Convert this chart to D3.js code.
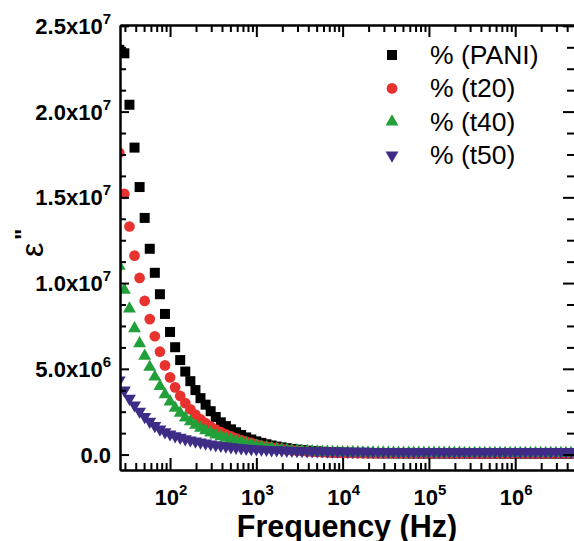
<!DOCTYPE html>
<html lang="en">
<head>
<meta charset="utf-8">
<title>Dielectric loss vs frequency</title>
<script src="https://cdn.jsdelivr.net/npm/d3@7"></script>
<style>
  body { margin: 0; background: #fff; }
  svg { display: block; font-family: "Liberation Sans", Arial, sans-serif; }
  .axis path, .axis line { stroke: #000; stroke-width: 2; }
</style>
</head>
<body>
<script>
// measurement frequencies (Hz), 17 points per decade
var freq = [25.81, 29.55, 33.84, 38.75, 44.37, 50.81, 58.18, 66.62, 76.29, 87.35,
  100, 114.5, 131.1, 150.1, 171.9, 196.8, 225.4, 258.1, 295.5, 338.4, 387.5, 443.7, 508.1, 581.8, 666.2, 762.9, 873.5,
  1000, 1145, 1311, 1501, 1719, 1968, 2254, 2581, 2955, 3384, 3875, 4437, 5081, 5818, 6662, 7629, 8735,
  10000, 11450, 13110, 15010, 17190, 19680, 22540, 25810, 29550, 33840, 38750, 44370, 50810, 58180, 66620, 76290, 87350,
  100000, 114500, 131100, 150100, 171900, 196800, 225400, 258100, 295500, 338400, 387500, 443700, 508100, 581800, 666200, 762900, 873500,
  1000000, 1145000, 1311000, 1501000, 1719000, 1968000, 2254000, 2581000, 2955000, 3384000, 3875000, 4437000];

// eps'' in units of 10^6
var pani = [23.6, 23.4, 20.4, 17.9, 15.6, 13.8, 12.0, 10.6, 9.35, 8.2,
  7.15, 6.26, 5.51, 4.84, 4.28, 3.76, 3.29, 2.91, 2.53, 2.19,
  1.88, 1.66, 1.47, 1.30, 1.14, 1.00, 0.88, 0.77, 0.68, 0.60,
  0.53, 0.47, 0.42, 0.37, 0.33, 0.29, 0.26, 0.23, 0.205, 0.185,
  0.165, 0.15, 0.135, 0.125, 0.115, 0.105, 0.098, 0.092, 0.087, 0.083,
  0.080, 0.078, 0.076, 0.075, 0.074, 0.073, 0.072, 0.071, 0.071, 0.070,
  0.070, 0.069, 0.069, 0.068, 0.068, 0.067, 0.067, 0.067, 0.066, 0.066,
  0.066, 0.065, 0.065, 0.065, 0.064, 0.064, 0.064, 0.063, 0.063, 0.063,
  0.062, 0.062, 0.062, 0.061, 0.061, 0.061, 0.060, 0.060, 0.060, 0.059];
var t20 = [17.6, 15.2, 13.3, 11.6, 10.3, 8.96, 7.9, 6.9, 6.0, 5.2,
  4.5, 3.92, 3.42, 3.0, 2.64, 2.33, 2.06, 1.83, 1.63, 1.46,
  1.31, 1.18, 1.06, 0.95, 0.85, 0.76, 0.68, 0.60, 0.53, 0.47,
  0.42, 0.37, 0.33, 0.29, 0.26, 0.23, 0.205, 0.185, 0.165, 0.15,
  0.135, 0.125, 0.115, 0.105, 0.1, 0.095, 0.09, 0.087, 0.085, 0.083,
  0.081, 0.08, 0.079, 0.078, 0.077, 0.076, 0.076, 0.075, 0.075, 0.074,
  0.074, 0.073, 0.073, 0.073, 0.072, 0.072, 0.072, 0.071, 0.071, 0.071,
  0.070, 0.070, 0.070, 0.070, 0.069, 0.069, 0.069, 0.069, 0.068, 0.068,
  0.068, 0.068, 0.067, 0.067, 0.067, 0.067, 0.066, 0.066, 0.066, 0.066];
var t40 = [11.0, 9.6, 8.5, 7.35, 6.48, 5.75, 5.1, 4.53, 3.98, 3.5,
  3.08, 2.72, 2.42, 2.15, 1.92, 1.72, 1.55, 1.40, 1.27, 1.15,
  1.05, 0.96, 0.88, 0.80, 0.72, 0.65, 0.58, 0.52, 0.46, 0.41,
  0.37, 0.33, 0.30, 0.27, 0.245, 0.225, 0.205, 0.19, 0.175, 0.165,
  0.155, 0.148, 0.14, 0.135, 0.13, 0.125, 0.12, 0.117, 0.114, 0.111,
  0.108, 0.105, 0.103, 0.101, 0.099, 0.097, 0.096, 0.095, 0.094, 0.093,
  0.092, 0.091, 0.09, 0.09, 0.089, 0.089, 0.088, 0.088, 0.087, 0.087,
  0.087, 0.086, 0.086, 0.086, 0.085, 0.085, 0.085, 0.085, 0.084, 0.084,
  0.084, 0.084, 0.083, 0.083, 0.083, 0.083, 0.082, 0.082, 0.082, 0.082];
var t50 = [4.34, 3.75, 3.27, 2.88, 2.52, 2.2, 1.93, 1.68, 1.48, 1.32,
  1.19, 1.08, 0.99, 0.91, 0.84, 0.78, 0.72, 0.66, 0.61, 0.56,
  0.52, 0.48, 0.44, 0.41, 0.38, 0.355, 0.335, 0.315, 0.3, 0.285,
  0.27, 0.26, 0.25, 0.24, 0.232, 0.225, 0.218, 0.212, 0.207, 0.202,
  0.198, 0.194, 0.19, 0.187, 0.184, 0.181, 0.179, 0.177, 0.175, 0.174,
  0.173, 0.172, 0.171, 0.17, 0.169, 0.168, 0.168, 0.167, 0.167, 0.166,
  0.166, 0.166, 0.165, 0.165, 0.165, 0.165, 0.164, 0.164, 0.164, 0.164,
  0.164, 0.163, 0.163, 0.163, 0.163, 0.163, 0.162, 0.162, 0.162, 0.162,
  0.162, 0.162, 0.161, 0.161, 0.161, 0.161, 0.161, 0.161, 0.160, 0.160];

var seriesNames = ["% (PANI)", "% (t20)", "% (t40)", "% (t50)"];
var seriesColors = ["#000000", "#e8322e", "#22a03a", "#3e2c86"];

var xTickValues = [1e2, 1e3, 1e4, 1e5, 1e6];
var xTickExp = ["2", "3", "4", "5", "6"];
var yTickValues = [0, 5, 10, 15, 20, 25];
var yTickMant = ["0.0", "5.0x10", "1.0x10", "1.5x10", "2.0x10", "2.5x10"];
var yTickExp = ["", "6", "7", "7", "7", "7"];

var w = 574, h = 541;
var plotL = 120, plotR = 575, plotT = 25, plotB = 470;

var svg = d3.select("body").append("svg")
  .attr("width", w)
  .attr("height", h);

var x = d3.scaleLog().domain([26.3, 4.93e6]).range([plotL, plotR]);
var y = d3.scaleLinear().domain([-0.9, 25.05]).range([plotB, plotT]);

// minor ticks
var xMinor = [];
[10, 100, 1000, 10000, 100000, 1000000].forEach(function(d) {
  for (var k = 2; k <= 9; k++) {
    var v = d * k;
    if (v > x.domain()[0] && v < x.domain()[1]) xMinor.push(v);
  }
});
var yMinor = d3.range(0, 25.01, 1.25).filter(function(v) { return v % 5 !== 0; });

svg.append("clipPath").attr("id", "plot")
  .append("rect")
  .attr("x", plotL).attr("y", plotT)
  .attr("width", plotR - plotL).attr("height", plotB - plotT);

// data markers
var series = [pani, t20, t40, t50];
var shapes = [
  d3.symbol(d3.symbolSquare, 100),
  d3.symbol(d3.symbolCircle, 90),
  d3.symbol(d3.symbolTriangle, 72),
  d3.symbol(d3.symbolTriangle, 72)
];

series.forEach(function(vals, s) {
  svg.append("g")
    .attr("clip-path", "url(#plot)")
    .selectAll("path")
    .data(freq.map(function(f, i) { return [f, vals[i]]; }))
    .join("path")
    .attr("transform", function(d) {
      return "translate(" + x(d[0]) + "," + y(d[1]) + ")" + (s === 3 ? " rotate(180)" : "");
    })
    .attr("d", shapes[s])
    .attr("fill", seriesColors[s]);
});

// axes, ticks pointing inward
function addAxis(axis, tx, ty) {
  svg.append("g").attr("class", "axis")
    .attr("transform", "translate(" + tx + "," + ty + ")")
    .call(axis)
    .selectAll("text").remove();
}
addAxis(d3.axisBottom(x).tickValues(xTickValues).tickSize(-12).tickSizeOuter(0), 0, plotB);
addAxis(d3.axisBottom(x).tickValues(xMinor).tickSize(-7).tickSizeOuter(0), 0, plotB);
addAxis(d3.axisTop(x).tickValues(xTickValues).tickSize(-12).tickSizeOuter(0), 0, plotT);
addAxis(d3.axisTop(x).tickValues(xMinor).tickSize(-7).tickSizeOuter(0), 0, plotT);
addAxis(d3.axisLeft(y).tickValues(yTickValues).tickSize(-9).tickSizeOuter(0), plotL, 0);
addAxis(d3.axisLeft(y).tickValues(yMinor).tickSize(-6).tickSizeOuter(0), plotL, 0);
addAxis(d3.axisRight(y).tickValues(yTickValues).tickSize(-12).tickSizeOuter(0), plotR, 0);
addAxis(d3.axisRight(y).tickValues(yMinor).tickSize(-8).tickSizeOuter(0), plotR, 0);

// x tick labels
var xl = svg.append("g").selectAll("text")
  .data(xTickValues)
  .join("text")
  .attr("x", function(d) { return x(d) + 1; })
  .attr("y", 505)
  .attr("text-anchor", "middle")
  .attr("font-size", 22)
  .attr("font-weight", "bold");
xl.append("tspan").text("10");
xl.append("tspan").attr("dy", -10).attr("font-size", 15).text(function(d, i) { return xTickExp[i]; });

// y tick labels
var yl = svg.append("g").selectAll("text")
  .data(yTickValues)
  .join("text")
  .attr("x", 111)
  .attr("y", function(d) { return y(d) + 8; })
  .attr("text-anchor", "end")
  .attr("font-size", 22)
  .attr("font-weight", "bold");
yl.append("tspan").text(function(d, i) { return yTickMant[i]; });
yl.append("tspan").attr("dy", -10).attr("font-size", 15).text(function(d, i) { return yTickExp[i]; });

// axis titles
svg.append("text")
  .attr("x", 347)
  .attr("y", 537)
  .attr("text-anchor", "middle")
  .attr("font-size", 30.5)
  .attr("font-weight", "bold")
  .text("Frequency (Hz)");

var yt = svg.append("g").attr("transform", "translate(43,257) rotate(-90)");
yt.append("text")
  .attr("x", 0).attr("y", 0)
  .attr("font-size", 32)
  .text("\u03b5");
yt.append("text")
  .attr("x", 17).attr("y", -11)
  .attr("font-size", 24)
  .attr("font-weight", "bold")
  .text("\"");

// legend
var legend = svg.append("g").selectAll("g")
  .data(seriesNames)
  .join("g")
  .attr("transform", function(d, i) { return "translate(392," + (55 + i * 33.4) + ")"; });
legend.append("path")
  .attr("d", function(d, i) { return shapes[i](); })
  .attr("transform", function(d, i) { return i === 3 ? "rotate(180)" : null; })
  .attr("fill", function(d, i) { return seriesColors[i]; });
legend.append("text")
  .attr("x", 38)
  .attr("y", 9)
  .attr("font-size", 26.5)
  .text(function(d) { return d; });
</script>
</body>
</html>
